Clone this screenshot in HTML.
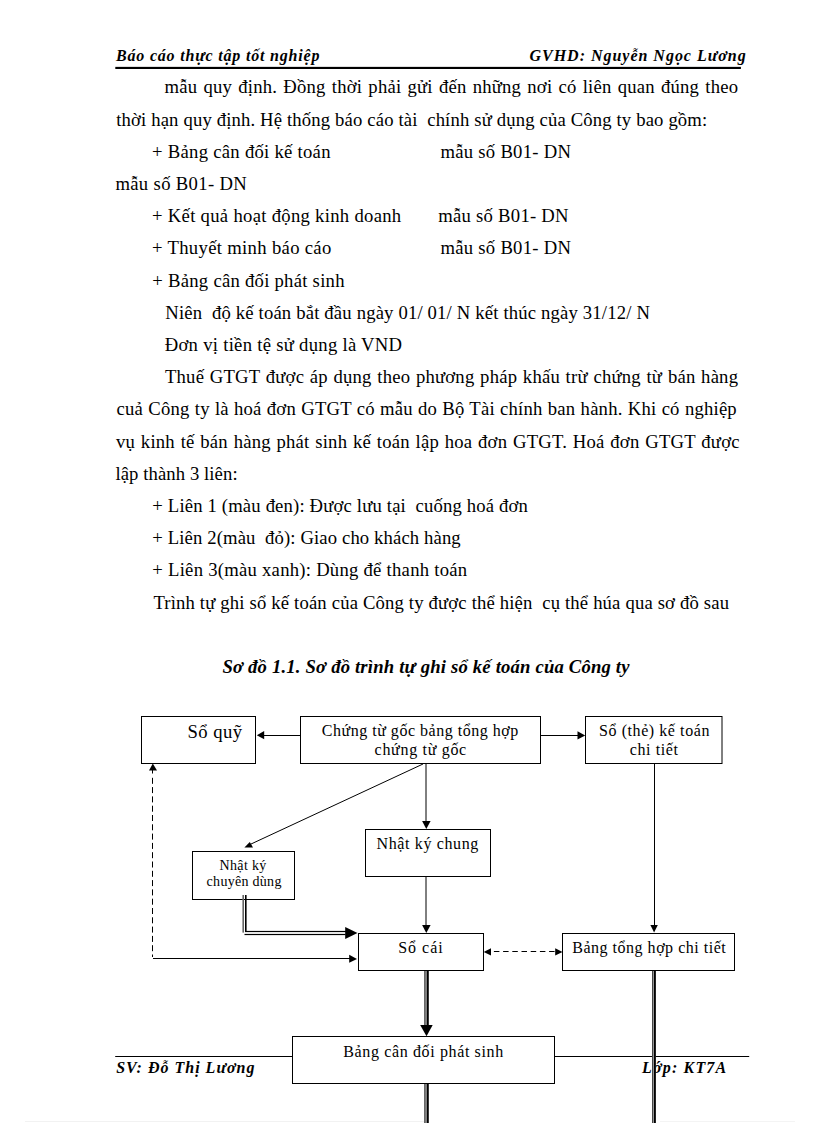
<!DOCTYPE html>
<html><head><meta charset="utf-8"><style>
html,body{margin:0;padding:0;background:#fff;}
body{width:816px;height:1123px;position:relative;overflow:hidden;font-family:"Liberation Serif",serif;color:#000;}
.j{position:absolute;white-space:nowrap;font-size:18.67px;line-height:20px;text-align:justify;text-align-last:justify;letter-spacing:0.2px;}
text{white-space:pre;}
svg{position:absolute;left:0;top:0;}
</style></head><body>
<svg width="816" height="1123" viewBox="0 0 816 1123" font-family="Liberation Serif">
<!-- header -->
<g font-weight="bold" font-style="italic" font-size="16">
<text x="116" y="61" textLength="203.5" lengthAdjust="spacing">Báo cáo thực tập tốt nghiệp</text>
<text x="529.5" y="61" textLength="216.2" lengthAdjust="spacing">GVHD: Nguyễn Ngọc Lương</text>
</g>
<rect x="115.3" y="67" width="625.6" height="2" fill="#000"/>
<rect x="115.3" y="66" width="625.6" height="1" fill="#ddd"/>

<!-- body -->
<g font-size="18.67">
<text x="116.2" y="126" textLength="591" lengthAdjust="spacing">thời hạn quy định. Hệ thống báo cáo tài  chính sử dụng của Công ty bao gồm:</text>
<text x="152.1" y="158" textLength="178.4" lengthAdjust="spacing">+ Bảng cân đối kế toán</text>
<text x="440.5" y="158" textLength="130.4" lengthAdjust="spacing">mẫu số B01- DN</text>
<text x="115.4" y="190" textLength="131.4" lengthAdjust="spacing">mẫu số B01- DN</text>
<text x="152.0" y="222" textLength="249.2" lengthAdjust="spacing">+ Kết quả hoạt động kinh doanh</text>
<text x="438.2" y="222" textLength="130.4" lengthAdjust="spacing">mẫu số B01- DN</text>
<text x="152.0" y="254" textLength="179.3" lengthAdjust="spacing">+ Thuyết minh báo cáo</text>
<text x="440.5" y="254" textLength="130.4" lengthAdjust="spacing">mẫu số B01- DN</text>
<text x="152.3" y="287" textLength="192.2" lengthAdjust="spacing">+ Bảng cân đối phát sinh</text>
<text x="165.3" y="319" textLength="484.6" lengthAdjust="spacing">Niên  độ kế toán bắt đầu ngày 01/ 01/ N kết thúc ngày 31/12/ N</text>
<text x="164.7" y="351" textLength="237.4" lengthAdjust="spacing">Đơn vị tiền tệ sử dụng là VND</text>
<text x="115.4" y="480" textLength="122.2" lengthAdjust="spacing">lập thành 3 liên:</text>
<text x="152.3" y="512" textLength="375.6" lengthAdjust="spacing">+ Liên 1 (màu đen): Được lưu tại  cuống hoá đơn</text>
<text x="152.3" y="544" textLength="308.4" lengthAdjust="spacing">+ Liên 2(màu  đỏ): Giao cho khách hàng</text>
<text x="152.3" y="576" textLength="314.8" lengthAdjust="spacing">+ Liên 3(màu xanh): Dùng để thanh toán</text>
<text x="153.4" y="609" textLength="575.6" lengthAdjust="spacing">Trình tự ghi sổ kế toán của Công ty được thể hiện  cụ thể húa qua sơ đồ sau</text>
</g>

<!-- title -->
<text x="222.5" y="673" font-size="18.67" font-weight="bold" font-style="italic" textLength="407" lengthAdjust="spacing">Sơ đồ 1.1. Sơ đồ trình tự ghi sổ kế toán của Công ty</text>

<!-- footer -->
<rect x="25" y="1121" width="400" height="1" fill="#f2f2f2"/>
<rect x="660" y="1121" width="135" height="1" fill="#f4f4f4"/>
<rect x="115.2" y="1056" width="634" height="1" fill="#000"/>
<g font-weight="bold" font-style="italic" font-size="16">
<text x="116.2" y="1073" textLength="138.3" lengthAdjust="spacing">SV: Đỗ Thị Lương</text>
<text x="642" y="1073" textLength="84.2" lengthAdjust="spacing">Lớp: KT7A</text>
</g>

<!-- diagram -->
<g fill="#fff" stroke="#000" stroke-width="1">
<rect x="141.5" y="716.5" width="114" height="47"/>
<rect x="300.5" y="716.5" width="240" height="47"/>
<rect x="585.5" y="716.5" width="136.5" height="47"/>
<rect x="365.5" y="829.5" width="125" height="47"/>
<rect x="192.5" y="851.5" width="102" height="48"/>
<rect x="358.5" y="933.5" width="125" height="37"/>
<rect x="562.5" y="933.5" width="172" height="37"/>
</g>
<g stroke="#000" stroke-width="1" fill="none">
<line x1="300" y1="735.5" x2="262" y2="735.5"/>
<line x1="541" y1="735.5" x2="579" y2="735.5"/>
<line x1="426" y1="764" x2="426" y2="822"/>
<line x1="423" y1="764" x2="250" y2="844.5"/>
<line x1="426" y1="877" x2="426" y2="926"/>
<line x1="654.5" y1="764" x2="654.5" y2="926"/>
<line x1="152.5" y1="770" x2="152.5" y2="773.5"/>
<path d="M152.5 777.8 V957" stroke-dasharray="6 3.3"/>
<line x1="153" y1="958.5" x2="350" y2="958.5"/>
<path d="M493.9 951.5 H556" stroke-dasharray="5.5 3.7"/>
</g>
<g fill="#000">
<path d="M256.8 735.2 L264.2 731 L264.2 739.2 Z"/>
<path d="M585.2 735.5 L577.5 731.2 L577.5 739.4 Z"/>
<path d="M426.3 829 L422.1 821 L430.6 821 Z"/>
<path d="M244.4 847.4 L249.8 842 L253 847.5 Z"/>
<path d="M426.3 933 L422.1 925 L430.6 925 Z"/>
<path d="M654.1 932.5 L650.4 924.9 L657.8 924.9 Z"/>
<path d="M152.8 763.5 L149 770.4 L157 770.4 Z"/>
<path d="M357 959 L349.2 954.8 L349.2 962.8 Z"/>
<path d="M483.7 951.9 L491 948.2 L491 955.6 Z"/>
<path d="M562.5 951.9 L555.2 948.2 L555.2 955.6 Z"/>
<path d="M357.5 933.1 L345.2 926.9 L345.2 939 Z"/>
<path d="M426.5 1036.2 L420.2 1024.9 L432.7 1024.9 Z"/>
</g>
<!-- double lines -->
<g>
<rect x="242.4" y="895" width="1.6" height="37.6" fill="#666"/>
<rect x="245" y="895" width="1.6" height="36.7" fill="#000"/>
<rect x="245" y="930.9" width="101" height="1.2" fill="#000"/>
<rect x="244.5" y="933.9" width="101" height="1.2" fill="#000"/>
<rect x="424.3" y="971" width="4.4" height="54" fill="#a0a0a0"/>
<rect x="424.3" y="971" width="1.1" height="54" fill="#444"/>
<rect x="426.8" y="971" width="1.9" height="54" fill="#000"/>
</g>
<rect x="292.5" y="1036.5" width="262" height="47" fill="#fff" stroke="#000" stroke-width="1"/>
<g>
<rect x="424.3" y="1084" width="4.4" height="40" fill="#a0a0a0"/>
<rect x="424.3" y="1084" width="1.1" height="40" fill="#444"/>
<rect x="426.8" y="1084" width="1.9" height="40" fill="#000"/>
<rect x="652" y="971" width="3.8" height="153" fill="#a0a0a0"/>
<rect x="652" y="971" width="1.1" height="153" fill="#444"/>
<rect x="654" y="971" width="1.8" height="153" fill="#000"/>
</g>
<!-- diagram text -->
<g font-size="16">
<text x="321.8" y="736" textLength="196.4" lengthAdjust="spacing">Chứng từ gốc bảng tổng hợp</text>
<text x="374.6" y="755" textLength="91.6" lengthAdjust="spacing">chứng từ gốc</text>
<text x="599" y="736" textLength="110.4" lengthAdjust="spacing">Sổ (thẻ) kế toán</text>
<text x="629.8" y="755" textLength="48.2" lengthAdjust="spacing">chi tiết</text>
<text x="376.5" y="849" textLength="101.8" lengthAdjust="spacing">Nhật ký chung</text>
<text x="398.2" y="953" textLength="44.6" lengthAdjust="spacing">Sổ cái</text>
<text x="572.2" y="953" textLength="153.6" lengthAdjust="spacing">Bảng tổng hợp chi tiết</text>
<text x="343.2" y="1057" textLength="160" lengthAdjust="spacing">Bảng cân đối phát sinh</text>
</g>
<text x="187.4" y="738" font-size="18.67" textLength="54.6" lengthAdjust="spacing">Sổ quỹ</text>
<g font-size="14">
<text x="219.6" y="870" textLength="46.6" lengthAdjust="spacing">Nhật ký</text>
<text x="206.6" y="886" textLength="74.8" lengthAdjust="spacing">chuyên dùng</text>
</g>
</svg>
<div class="j" style="left:164.6px;top:77px;width:573.6px;">mẫu quy định. Đồng thời phải gửi đến những nơi có liên quan đúng theo</div>
<div class="j" style="left:165px;top:367px;width:573.2px;">Thuế GTGT được áp dụng theo phương pháp khấu trừ chứng từ bán hàng</div>
<div class="j" style="left:116.5px;top:399px;width:620.4px;">cuả Công ty là hoá đơn GTGT có mẫu do Bộ Tài chính ban hành. Khi có nghiệp</div>
<div class="j" style="left:116px;top:432px;width:623.7px;">vụ kinh tế bán hàng phát sinh kế toán lập hoa đơn GTGT. Hoá đơn GTGT được</div>
</body></html>
